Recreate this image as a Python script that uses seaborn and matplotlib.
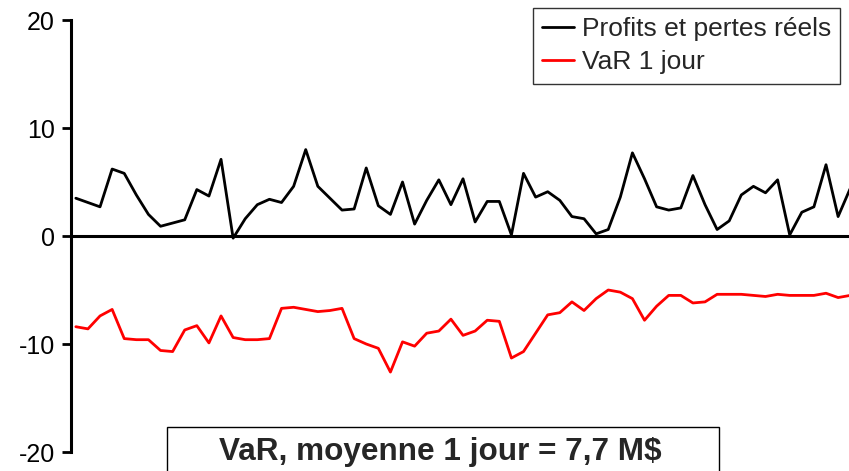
import numpy as np
import pandas as pd
import matplotlib
matplotlib.use("Agg")
import matplotlib.pyplot as plt
from matplotlib.patches import Rectangle
import seaborn as sns

# Daily values (M$)
pnl_reel = [3.5, 3.1, 2.7, 6.2, 5.8, 3.8, 2.0, 0.9, 1.2, 1.5, 4.3, 3.7, 7.1, -0.2,
            1.6, 2.9, 3.4, 3.1, 4.6, 8.0, 4.6, 3.5, 2.4, 2.5, 6.3, 2.8, 2.0, 5.0,
            1.1, 3.3, 5.2, 2.9, 5.3, 1.3, 3.2, 3.2, 0.1, 5.8, 3.6, 4.1, 3.3, 1.8,
            1.6, 0.2, 0.6, 3.6, 7.7, 5.3, 2.7, 2.4, 2.6, 5.6, 2.9, 0.6, 1.4, 3.8,
            4.6, 4.0, 5.2, 0.1, 2.2, 2.7, 6.6, 1.8, 4.4]
var_1j = [-8.4, -8.6, -7.4, -6.8, -9.5, -9.6, -9.6, -10.6, -10.7, -8.7, -8.3, -9.9,
          -7.4, -9.4, -9.6, -9.6, -9.5, -6.7, -6.6, -6.8, -7.0, -6.9, -6.7, -9.5,
          -10.0, -10.4, -12.6, -9.8, -10.2, -9.0, -8.8, -7.7, -9.2, -8.8, -7.8,
          -7.9, -11.3, -10.7, -9.0, -7.3, -7.1, -6.1, -6.9, -5.8, -5.0, -5.2, -5.8,
          -7.8, -6.5, -5.5, -5.5, -6.2, -6.1, -5.4, -5.4, -5.4, -5.5, -5.6, -5.4,
          -5.5, -5.5, -5.5, -5.3, -5.7, -5.5]
jours = np.arange(len(pnl_reel))

y_ticks = [-20, -10, 0, 10, 20]
legend_labels = ["Profits et pertes réels", "VaR 1 jour"]
note = "VaR, moyenne 1 jour = 7,7 M$"

sns.set_style("white")
plt.rcParams['font.family'] = ['Liberation Sans', 'DejaVu Sans']
plt.rcParams['axes.unicode_minus'] = False

fig = plt.figure(figsize=(8.49, 4.71), dpi=100)
ax = fig.add_axes([71 / 849, 1 - 452 / 471, 1 - 71 / 849, 432 / 471])

sns.lineplot(x=jours, y=pnl_reel, ax=ax, color='black', linewidth=2.0,
             label=legend_labels[0])
sns.lineplot(x=jours, y=var_1j, ax=ax, color='#ff0000', linewidth=2.0,
             label=legend_labels[1])

ax.axhline(0, color='black', linewidth=2.2, zorder=1)
ax.set_xlim(-0.4, 63.9)
ax.set_ylim(-20, 20)
ax.set_yticks(y_ticks)
ax.set_xticks([])
ax.tick_params(axis='y', direction='out', length=6.5, width=2, labelsize=18,
               left=True, pad=5, colors='black')
for side in ['top', 'right', 'bottom']:
    ax.spines[side].set_visible(False)
ax.spines['left'].set_linewidth(2.2)
ax.spines['left'].set_color('black')
ax.set_xlabel("")
ax.set_ylabel("")

leg = ax.legend(loc='upper right', bbox_to_anchor=(840 / 849, 1 - 8 / 471),
                bbox_transform=fig.transFigure, fontsize=19, frameon=True,
                fancybox=False, handlelength=1.2, handletextpad=0.3,
                borderpad=0.35, labelspacing=0.35, borderaxespad=0)
leg.get_frame().set_edgecolor('black')
leg.get_frame().set_linewidth(1)

# boxed note at the bottom, running off the lower edge
fig.patches.append(Rectangle((167 / 849, -0.05), (719 - 167) / 849,
                             0.05 + 1 - 427 / 471, transform=fig.transFigure,
                             facecolor='white', edgecolor='black', linewidth=1,
                             zorder=5))
fig.text(440 / 849, 1 - 460 / 471, note, ha='center', va='baseline',
         fontsize=22.7, fontweight='bold', zorder=6)

fig.savefig("out.png", dpi=100)
